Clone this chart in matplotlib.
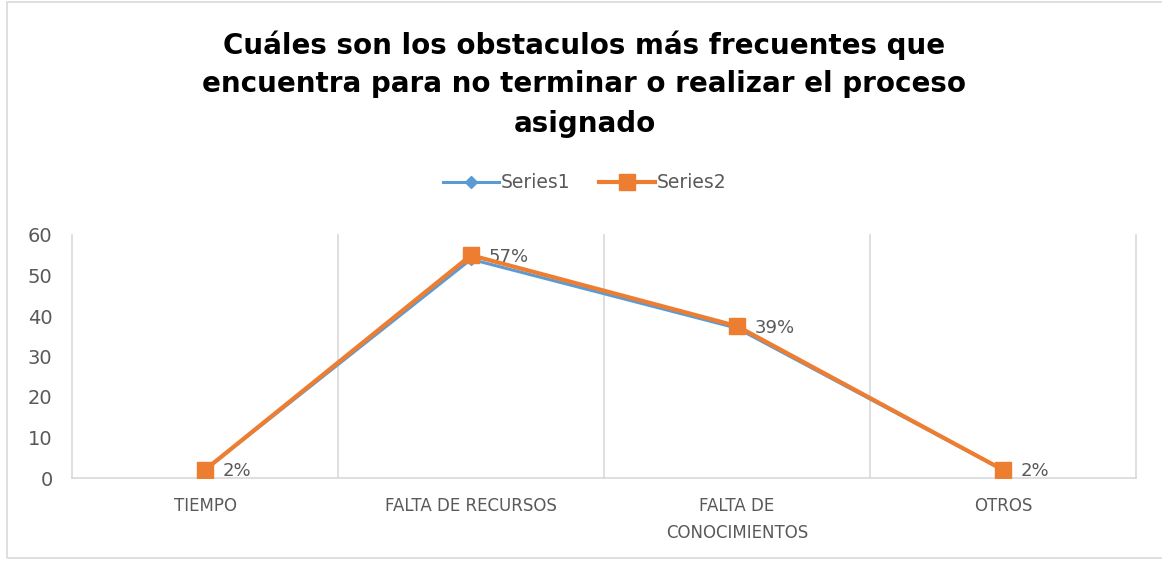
import matplotlib.pyplot as plt
from matplotlib.patches import Rectangle

categories = ["TIEMPO", "FALTA DE RECURSOS", "FALTA DE\nCONOCIMIENTOS", "OTROS"]
series1 = [2, 54, 37, 2]
series2 = [2, 55, 37.5, 2]
labels2 = ["2%", "57%", "39%", "2%"]

title = ("Cuáles son los obstaculos más frecuentes que\n"
         "encuentra para no terminar o realizar el proceso\n"
         "asignado")

blue = "#5B9BD5"
orange = "#ED7D31"
grey = "#595959"
gridc = "#D9D9D9"

fig = plt.figure(figsize=(11.62, 5.61), dpi=100)
ax = fig.add_axes([72 / 1162, 83 / 561, (1136 - 72) / 1162, (478 - 235) / 561])

x = list(range(len(categories)))
ax.plot(x, series1, color=blue, lw=2.2, marker="D", ms=6, label="Series1", zorder=3)
ax.plot(x, series2, color=orange, lw=3, marker="s", ms=11, label="Series2", zorder=4)

for xi, yi, t in zip(x, series2, labels2):
    ax.annotate(t, (xi, yi), xytext=(13, -1), textcoords="offset points",
                ha="left", va="center", fontsize=13, color=grey)

ax.set_xlim(-0.5, 3.5)
ax.set_ylim(0, 60)
ax.set_yticks(range(0, 61, 10))
ax.set_xticks(x)
ax.set_xticklabels(categories, fontsize=12, color=grey, linespacing=1.6)
ax.tick_params(axis="y", labelsize=14, labelcolor=grey, length=0, pad=14)
ax.tick_params(axis="x", length=0, pad=14)

for b in [-0.5, 0.5, 1.5, 2.5, 3.5]:
    ax.axvline(b, color=gridc, lw=1.2, zorder=1, clip_on=False)
for s in ["top", "right", "left"]:
    ax.spines[s].set_visible(False)
ax.spines["bottom"].set_color(gridc)
ax.spines["bottom"].set_linewidth(1.2)

fig.text(0.503, 1 - 30 / 561, title, ha="center", va="top", fontsize=20,
         fontweight="bold", color="black", linespacing=1.5)

fig.legend(loc="center", bbox_to_anchor=(0.503, 1 - 183 / 561), ncol=2,
           frameon=False, fontsize=13.5, labelcolor=grey, handlelength=3.0,
           columnspacing=1.5, handletextpad=0.1)

fig.patches.append(Rectangle((7 / 1162, 3 / 561), 1160 / 1162, 556 / 561,
                             transform=fig.transFigure, fill=False,
                             edgecolor=gridc, lw=1.2))

fig.savefig("out.png", dpi=100)
